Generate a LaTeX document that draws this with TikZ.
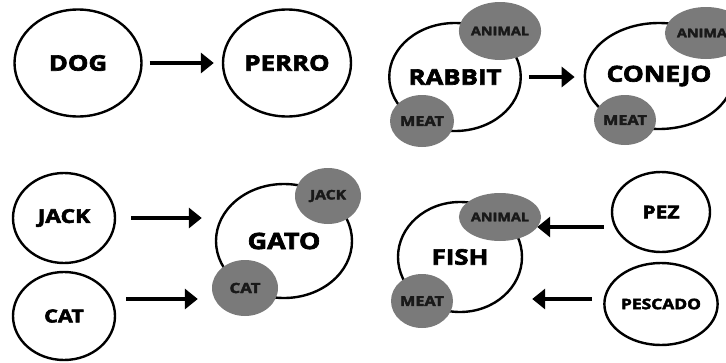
\documentclass[tikz,border=0pt]{standalone}
\usepackage{fontspec}
\setsansfont{Open Sans}[FakeStretch=1.2, BoldFeatures={FakeBold=3}]
\usepackage{xcolor}
\usepackage{tikz}
\usetikzlibrary{shapes.geometric, arrows.meta, positioning, calc}

\definecolor{tagfill}{RGB}{122,122,122}
\newcommand{\lblsize}[1]{\fontsize{#1}{#1}\selectfont}

\begin{document}
\begin{tikzpicture}[x=1pt, y=-1pt,
    big/.style={ellipse, draw, line width=2.4pt, inner sep=0pt, font=\sffamily\bfseries},
    tag/.style={ellipse, fill=tagfill, inner sep=0pt, text=black!90, font=\sffamily\bfseries},
    arr/.style={line width=4.5pt, -{Triangle[length=13pt,width=20pt]}}]
    \useasboundingbox (0,0) rectangle (726,362);
    \clip (0,0) rectangle (726,362);

    % Arriba izquierda
    \node[big, minimum width=127pt, minimum height=107pt] (dog) at (78,63) {\lblsize{21.5}DOG};
    \node[big, minimum width=128pt, minimum height=107pt] (perro) at (287,63) {\lblsize{21.5}PERRO};
    \draw[arr, shorten <=7pt, shorten >=8pt] (dog.east) -- (perro.west);

    % Arriba derecha
    \node[big, minimum width=126pt, minimum height=108pt] (rabbit) at (455,77) {\lblsize{21.5}RABBIT};
    \node[tag, minimum width=62pt, minimum height=58pt] (rabbit-animal) at (500,31) {\lblsize{12}ANIMAL};
    \node[tag, minimum width=64pt, minimum height=52pt] (rabbit-meat) at (422,121) {\lblsize{13.5}MEAT};
    \node[big, minimum width=120pt, minimum height=106pt] (conejo) at (659,76) {\lblsize{22}CONEJO};
    \node[tag, minimum width=66pt, minimum height=52pt] (conejo-animal) at (706,33) {\lblsize{12}ANIMAL};
    \node[tag, minimum width=62pt, minimum height=50pt] (conejo-meat) at (625,120) {\lblsize{13.5}MEAT};
    \draw[arr, shorten <=7pt, shorten >=9pt] (rabbit.east) -- (rabbit.east -| conejo.west);

    % Abajo izquierda
    \node[big, minimum width=102pt, minimum height=90pt] (jack) at (64,218) {\lblsize{19}JACK};
    \node[big, minimum width=102pt, minimum height=88pt] (cat) at (64,316) {\lblsize{18}CAT};
    \node[big, minimum width=136pt, minimum height=114pt] (gato) at (284,241) {\lblsize{22.5}GATO};
    \node[tag, minimum width=66pt, minimum height=56pt] (gato-jack) at (328,196) {\lblsize{13}JACK};
    \node[tag, minimum width=66pt, minimum height=56pt] (gato-cat) at (245,288) {\lblsize{14}CAT};
    \draw[arr, shorten <=15pt, shorten >=13pt] (jack.east) -- (jack.east -| gato.west);
    \draw[arr, shorten <=10pt, shorten >=14pt] ([yshift=17pt]cat.east) -- ([yshift=17pt]cat.east -| gato-cat.west);

    % Abajo derecha
    \node[big, minimum width=124pt, minimum height=110pt] (fish) at (460,257) {\lblsize{21.5}FISH};
    \node[tag, minimum width=62pt, minimum height=48pt] (fish-animal) at (500,217) {\lblsize{12}ANIMAL};
    \node[tag, minimum width=62pt, minimum height=54pt] (fish-meat) at (422,301) {\lblsize{13.5}MEAT};
    \node[big, minimum width=98pt, minimum height=80pt] (pez) at (661,212) {\lblsize{17.5}PEZ};
    \node[big, minimum width=98pt, minimum height=82pt] (pescado) at (661,304) {\lblsize{14.5}PESCADO};
    \draw[arr, shorten <=7pt, shorten >=14pt] ([yshift=-15pt]pez.west) -- ([yshift=-15pt]pez.west -| fish.east);
    \draw[arr, shorten <=11pt, shorten >=9pt] ([yshift=5pt]pescado.west) -- ([yshift=5pt]pescado.west -| fish.east);
\end{tikzpicture}
\end{document}
